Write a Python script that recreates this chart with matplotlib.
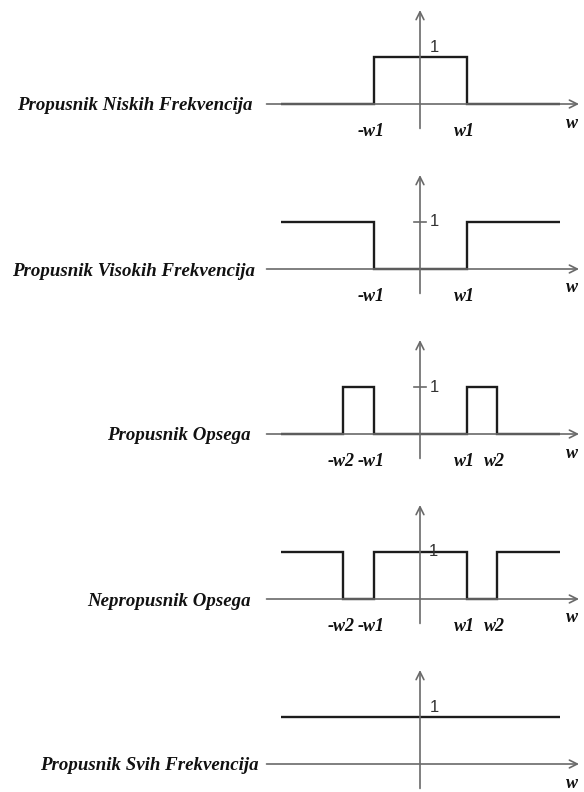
import matplotlib.pyplot as plt

# cutoff frequencies (w1 normalised to 1) and the plotted frequency span
w1 = 1.0
w2 = 1.65
w_max = 3.0

# filter names drawn at the left of each response
names = ['Propusnik Niskih Frekvencija',
         'Propusnik Visokih Frekvencija',
         'Propusnik Opsega',
         'Nepropusnik Opsega',
         'Propusnik Svih Frekvencija']

# step responses: band edges and the gain inside each band
lp_edges = [-w_max, -w1, w1, w_max]
lp_gain = [0, 1, 0]
hp_edges = [-w_max, -w1, w1, w_max]
hp_gain = [1, 0, 1]
bp_edges = [-w_max, -w2, -w1, w1, w2, w_max]
bp_gain = [0, 1, 0, 1, 0]
bs_edges = [-w_max, -w2, -w1, w1, w2, w_max]
bs_gain = [1, 0, 1, 0, 1]
ap_edges = [-w_max, w_max]
ap_gain = [1]

edges = [lp_edges, hp_edges, bp_edges, bs_edges, ap_edges]
gains = [lp_gain, hp_gain, bp_gain, bs_gain, ap_gain]

# labels under the frequency axis
tick_pos = [[-w1, w1], [-w1, w1], [-w2, -w1, w1, w2], [-w2, -w1, w1, w2], []]
tick_txt = [['-w1', 'w1'], ['-w1', 'w1'], ['-w2', '-w1', 'w1', 'w2'],
            ['-w2', '-w1', 'w1', 'w2'], []]

# how the "1" level is marked: above the line, with a small tick, or on the line
one_style = ['above', 'tick', 'tick', 'on', 'above']

# layout (pixels)
W, H = 584, 792
x0 = 420          # where w = 0 sits
unit_x = 46.5     # pixels per w1
unit_y = 47       # pixels per gain of 1
axis_rows = [104, 269, 434, 599, 764]
name_right = [253, 255, 251, 251, 259]

serif = dict(family='Liberation Serif', weight='bold', style='italic')
line_col = '#1c1c1c'
axis_col = '#6a6a6a'

fig = plt.figure(figsize=(W / 100, H / 100), dpi=100)

xlo, xhi = -3.5, 3.5
ylo, yhi = -0.6, 2.1
for k in range(5):
    row = axis_rows[k]
    left = (x0 + xlo * unit_x) / W
    width = (xhi - xlo) * unit_x / W
    bottom = (H - (row - ylo * unit_y)) / H
    height = (yhi - ylo) * unit_y / H
    ax = fig.add_axes([left, bottom, width, height])
    ax.set_xlim(xlo, xhi)
    ax.set_ylim(ylo, yhi)
    ax.axis('off')

    # axes with open arrow heads
    ax.annotate('', xy=(3.42, 0), xytext=(-3.3, 0),
                arrowprops=dict(arrowstyle='->', color=axis_col, lw=1.2,
                                mutation_scale=14, shrinkA=0, shrinkB=0))
    ax.annotate('', xy=(0, 2.0), xytext=(0, -0.52),
                arrowprops=dict(arrowstyle='->', color=axis_col, lw=1.2,
                                mutation_scale=14, shrinkA=0, shrinkB=0))

    ax.stairs(gains[k], edges[k], baseline=None, color=line_col, lw=1.7)

    if one_style[k] == 'above':
        ax.text(0.3, 1.05, '1', ha='center', va='bottom', fontsize=12,
                family='Liberation Sans', color='#333333')
    elif one_style[k] == 'tick':
        ax.plot([-0.13, 0.12], [1, 1], color=axis_col, lw=1.2)
        ax.text(0.3, 1.0, '1', ha='center', va='center', fontsize=12,
                family='Liberation Sans', color='#333333')
    else:
        ax.text(0.28, 1.0, '1', ha='center', va='center', fontsize=12,
                family='Liberation Sans', color='#333333')

    for p, t in zip(tick_pos[k], tick_txt[k]):
        ax.text(p - 0.05, -0.58, t, ha='center', va='center', fontsize=13,
                color='#111111', clip_on=False, **serif)
    ax.text(3.26, -0.5, 'w', ha='center', va='baseline', fontsize=13,
            color='#111111', clip_on=False, **serif)

    fig.text(name_right[k] / W, (H - row) / H, names[k], ha='right',
             va='center_baseline', fontsize=13.6, color='#111111', **serif)

fig.savefig('out.png', dpi=100)
